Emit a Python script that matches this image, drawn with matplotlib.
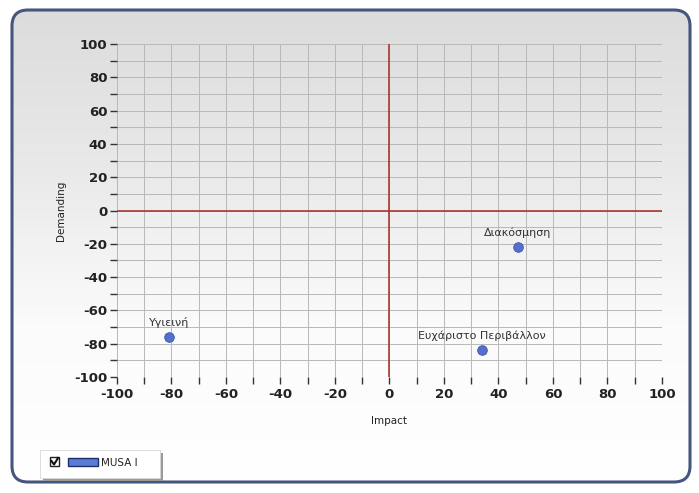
import numpy as np
import matplotlib
matplotlib.use("Agg")
import matplotlib.pyplot as plt
from matplotlib.patches import FancyBboxPatch, Rectangle
from matplotlib.colors import LinearSegmentedColormap
from matplotlib.ticker import MultipleLocator

plt.rcParams["axes.unicode_minus"] = False

# data
labels = ["Υγιεινή", "Διακόσμηση", "Ευχάριστο Περιβάλλον"]
impact = [-81, 47, 34]
demanding = [-76, -22, -84]
series_name = "MUSA I"
ticks = [-100, -80, -60, -40, -20, 0, 20, 40, 60, 80, 100]

W, H = 699, 493
fig = plt.figure(figsize=(W / 100, H / 100), dpi=100)
fig.patch.set_facecolor("white")

# background axes in pixel units (frame, gradient, legend)
bg = fig.add_axes([0, 0, 1, 1])
bg.set_xlim(0, W)
bg.set_ylim(H, 0)
bg.axis("off")

frame = FancyBboxPatch((12, 10), 678, 472, boxstyle="round,pad=0,rounding_size=16",
                       facecolor="none", edgecolor="#46557e", linewidth=2.2, zorder=3)
bg.add_patch(frame)
grad = np.linspace(0, 1, 256).reshape(-1, 1)
cmap = LinearSegmentedColormap.from_list("g", ["#dcdcdc", "#e9e9e9", "#fbfbfb", "#ffffff"])
img = bg.imshow(grad, extent=[12, 690, 482, 10], cmap=cmap, aspect="auto", zorder=1)
img.set_clip_path(frame)

# legend box
bg.add_patch(Rectangle((43, 453), 120, 28, facecolor="#9a9a9a", edgecolor="none", zorder=4))
bg.add_patch(Rectangle((40, 450), 120, 28, facecolor="white", edgecolor="#d8d8d8", linewidth=0.6, zorder=5))
bg.add_patch(Rectangle((50, 457), 9, 9, facecolor="white", edgecolor="#222222", linewidth=1, zorder=6))
bg.plot([51.5, 54, 58], [461, 464.5, 458], color="#111111", linewidth=1.5, zorder=7)
bg.add_patch(Rectangle((68, 458), 30, 8, facecolor="#5b7bd5", edgecolor="#1d2f6a", linewidth=1, zorder=6))
bg.text(101, 462.5, series_name, fontsize=7.5, va="center", ha="left", color="#222222", zorder=7)

# main chart
ax = fig.add_axes([117 / W, 1 - 377 / H, (662 - 117) / W, (377 - 44) / H])
ax.set_facecolor("none")
ax.set_xlim(-100, 100)
ax.set_ylim(-100, 100)
ax.xaxis.set_minor_locator(MultipleLocator(10))
ax.yaxis.set_minor_locator(MultipleLocator(10))
ax.set_xticks(ticks)
ax.set_yticks(ticks)
ax.grid(which="both", color="#b8b8b8", linewidth=0.7)
ax.set_axisbelow(True)
for s in ax.spines.values():
    s.set_visible(False)
ax.tick_params(which="both", direction="out", length=5, width=1, color="#333333")
ax.tick_params(axis="x", pad=3)
ax.tick_params(axis="y", pad=2)
for lab in ax.get_xticklabels() + ax.get_yticklabels():
    lab.set_fontweight("bold")
    lab.set_fontsize(9.5)
    lab.set_color("#222222")

ax.axhline(0, color="#a8392f", linewidth=1.2, zorder=2)
ax.axvline(0, color="#a8392f", linewidth=1.2, zorder=2)

ax.scatter(impact, demanding, s=48, color="#5470cc", edgecolor="#3b55aa", linewidth=0.6, zorder=4)
for lbl, x, y in zip(labels, impact, demanding):
    ax.annotate(lbl, (x, y), xytext=(0, 8), textcoords="offset points",
                ha="center", va="baseline", fontsize=8, color="#333333")

ax.set_xlabel("Impact", fontsize=7.5, color="#222222", labelpad=11)
ax.set_ylabel("Demanding", fontsize=7.5, color="#222222", labelpad=6)

fig.savefig("out.png", dpi=100)
